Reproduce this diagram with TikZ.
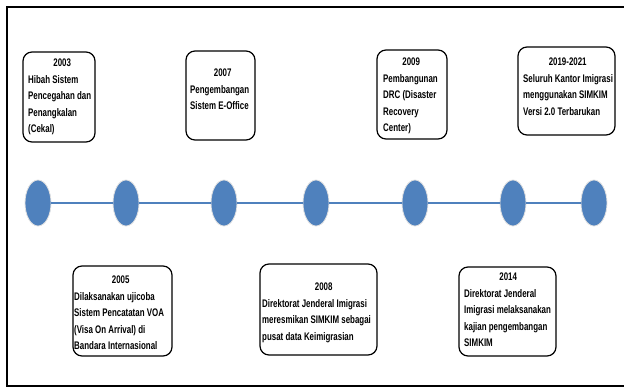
\documentclass[tikz,border=0pt]{standalone}
\usepackage{fontspec}
\setmainfont{Liberation Sans}[FakeStretch=0.72]
\usetikzlibrary{shapes.geometric}
\definecolor{dotblue}{RGB}{79,129,189}
\tikzset{milestone/.style={ellipse,fill=dotblue,draw=black!12,line width=0.8pt,
    minimum width=26pt,minimum height=46pt,inner sep=0pt}}
\tikzset{tline/.style={dotblue,line width=2.2pt}}
\tikzset{evbox/.style={draw,rounded corners=9pt,line width=1.2pt,inner sep=0pt}}
\tikzset{evtext/.style={anchor=north west,inner sep=0pt,align=left,
    font=\fontsize{11}{16.5}\selectfont\bfseries}}

\begin{document}
\begin{tikzpicture}[x=1pt,y=-1pt]
    \useasboundingbox (0,0) rectangle (624,388);
    \clip (0,0) rectangle (624,388);
    % frame, its right side is cut off
    \draw[line width=1.5pt] (640,7) -- (7,7) -- (7,386) -- (640,386);

    % timeline
    \node[milestone] (d1) at (38,203) {};
    \node[milestone] (d2) at (126,203) {};
    \node[milestone] (d3) at (224,203) {};
    \node[milestone] (d4) at (316,203) {};
    \node[milestone] (d5) at (415,203) {};
    \node[milestone] (d6) at (513,203) {};
    \node[milestone] (d7) at (594,203) {};
    \foreach \a/\b in {d1/d2,d2/d3,d3/d4,d4/d5,d5/d6,d6/d7}
      \draw[tline] (\a) -- (\b);

    % upper boxes
    \node[evbox,minimum width=72pt,minimum height=90pt] (b2003) at (59,97) {};
    \node[evtext] (t2003) at (28,59) {\makebox[68pt]{2003}\\Hibah Sistem\\
      Pencegahan dan\\Penangkalan\\(Cekal)};
    \node[evbox,minimum width=69pt,minimum height=89pt] (b2007) at (220.5,95.5) {};
    \node[evtext] (t2007) at (190,69) {\makebox[65pt]{2007}\\Pengembangan\\
      Sistem E-Office};
    \node[evbox,minimum width=70pt,minimum height=89pt] (b2009) at (412,94.5) {};
    \node[evtext] (t2009) at (383,58) {\makebox[56pt]{2009}\\Pembangunan\\
      DRC (Disaster\\Recovery\\Center)};
    \node[evbox,minimum width=97pt,minimum height=88pt] (b2019) at (566.5,91) {};
    \node[evtext] (t2019) at (523,58) {\makebox[89pt]{2019-2021}\\
      Seluruh Kantor Imigrasi\\menggunakan SIMKIM\\Versi 2.0 Terbarukan};

    % lower boxes
    \node[evbox,minimum width=99pt,minimum height=90pt] (b2005) at (122.5,311) {};
    \node[evtext] (t2005) at (74,276) {\makebox[93pt]{2005}\\Dilaksanakan ujicoba\\
      Sistem Pencatatan VOA\\(Visa On Arrival) di\\Bandara Internasional};
    \node[evbox,minimum width=117pt,minimum height=91pt] (b2008) at (318.5,309.5) {};
    \node[evtext] (t2008) at (262,283) {\makebox[123pt]{2008}\\
      Direktorat Jenderal Imigrasi\\meresmikan SIMKIM sebagai\\
      pusat data Keimigrasian};
    \node[evbox,minimum width=97pt,minimum height=89pt] (b2014) at (507.5,311.5) {};
    \node[evtext] (t2014) at (464,273) {\makebox[88pt]{2014}\\Direktorat Jenderal\\
      Imigrasi melaksanakan\\kajian pengembangan\\SIMKIM};
\end{tikzpicture}
\end{document}
